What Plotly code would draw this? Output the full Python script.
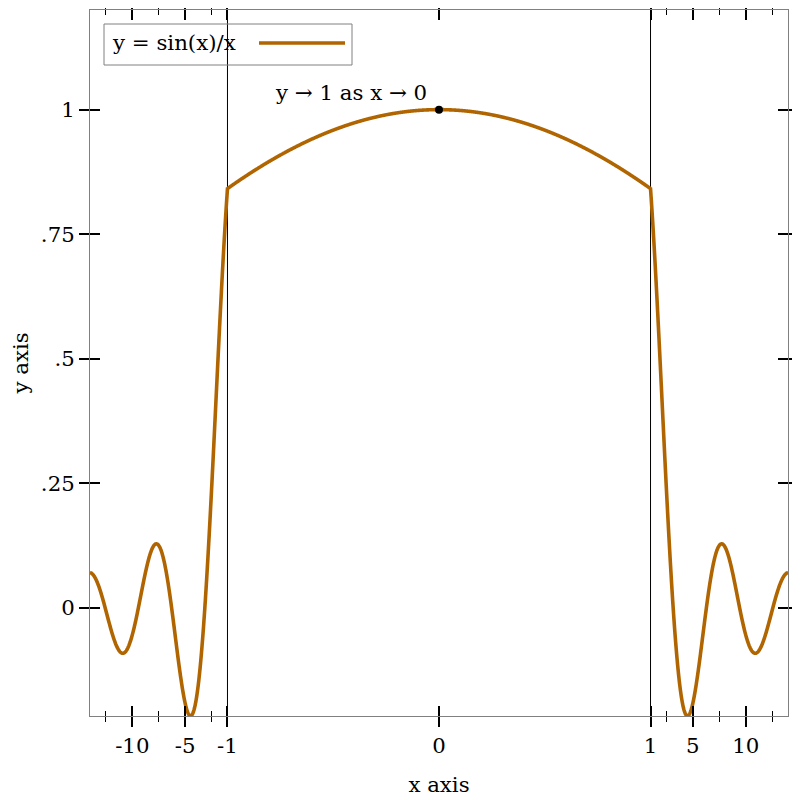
import numpy as np
import plotly.graph_objects as go

# ---- data / axis definitions ----
x_limits = [-14, 14]
y_limits = [-0.21723, 1.2]
major_x = [-10, -5, -1, 0, 1, 5, 10]
major_x_labels = ["-10", "-5", "-1", "0", "1", "5", "10"]
minor_x = [-12.5, -7.5, -2.5, 2.5, 7.5, 12.5]
y_ticks = [0, 0.25, 0.5, 0.75, 1]
y_labels = ["0", ".25", ".5", ".75", "1"]
stretch_bounds = [-1, 1]     # interval that is stretched on the x axis
stretch_factor = 20
limit_x = [0]
limit_y = [1]
series_name = "y = sin(x)/x"
limit_text = "y \u2192 1 as x \u2192 0"

CURVE = "#b06500"
AXIS_GREY = "#808080"
FONT = dict(family="DejaVu Serif", size=21.3, color="black")


def fwd(x):
    x = np.asarray(x, dtype=float)
    a = np.abs(x)
    return np.where(a <= 1, stretch_factor * x, np.sign(x) * (a + stretch_factor - 1))


def inv(t):
    t = np.asarray(t, dtype=float)
    a = np.abs(t)
    return np.where(a <= stretch_factor, t / stretch_factor, np.sign(t) * (a - stretch_factor + 1))


t_lo, t_hi = float(fwd(x_limits[0])), float(fwd(x_limits[1]))
xs = inv(np.linspace(t_lo, t_hi, 2641))
ys = np.sinc(xs / np.pi)  # sin(x)/x

fig = go.Figure()
fig.add_trace(go.Scatter(x=fwd(xs), y=ys, mode="lines",
                         line=dict(color=CURVE, width=3.6, simplify=False),
                         name=series_name, showlegend=False))
fig.add_trace(go.Scatter(x=fwd(limit_x), y=limit_y, mode="markers",
                         marker=dict(color="black", size=8),
                         xaxis="x2", yaxis="y2", showlegend=False))

# vertical lines at the stretch bounds
for b in stretch_bounds:
    fig.add_shape(type="line", xref="x", yref="paper", x0=float(fwd(b)), x1=float(fwd(b)),
                  y0=0, y1=1, line=dict(color="black", width=1), layer="below")

common_x = dict(range=[t_lo, t_hi], tickmode="array", tickvals=fwd(major_x).tolist(),
                ticklen=10, tickwidth=2, tickcolor="black", showgrid=False,
                zeroline=False, mirror="ticks", automargin=False)
common_y = dict(range=y_limits, tickmode="array", tickvals=y_ticks,
                ticklen=10, tickwidth=2, tickcolor="black", showgrid=False,
                zeroline=False, mirror="ticks", automargin=False)

# page body has an 8px margin, so the figure is 792 px and offset by 8
fig.update_layout(
    width=792, height=792,
    margin=dict(l=82, r=12, t=2, b=84),
    paper_bgcolor="white", plot_bgcolor="white",
    font=FONT,
    showlegend=False,
    xaxis=dict(**common_x, ticks="outside", ticktext=major_x_labels,
               showline=True, linecolor=AXIS_GREY, linewidth=1,
               tickfont=FONT,
               minor=dict(tickmode="array", tickvals=fwd(minor_x).tolist(), ticks="outside",
                          ticklen=5, tickwidth=1, tickcolor="black", showgrid=False),
               title=dict(text="x axis", font=FONT, standoff=20)),
    xaxis2=dict(**common_x, ticks="inside", showticklabels=False, overlaying="x",
                anchor="y", side="bottom", showline=False,
                minor=dict(tickmode="array", tickvals=fwd(minor_x).tolist(), ticks="inside",
                           ticklen=5, tickwidth=1, tickcolor="black", showgrid=False)),
    yaxis=dict(**common_y, ticks="outside", ticktext=y_labels,
               showline=True, linecolor=AXIS_GREY, linewidth=1, tickfont=FONT,
               ticklabelstandoff=0,
               title=dict(text="y axis", font=FONT, standoff=14)),
    yaxis2=dict(**common_y, ticks="inside", showticklabels=False, overlaying="y",
                anchor="x", side="left", showline=False),
)

# limit annotation
fig.add_annotation(x=float(fwd(limit_x)[0]), y=limit_y[0], xref="x", yref="y",
                   text=limit_text, showarrow=False, xanchor="right", yanchor="bottom",
                   xshift=-10, yshift=3, font=FONT)

# custom legend (line sample to the right of the text); px/py give page pixels
PW, PH = 698.0, 706.0
def px(x): return (x - 90) / PW
def py(y): return (716 - y) / PH

fig.add_shape(type="rect", xref="paper", yref="paper", x0=px(104), x1=px(352),
              y0=py(65), y1=py(24), line=dict(color=AXIS_GREY, width=1))
fig.add_shape(type="line", xref="paper", yref="paper", x0=px(259), x1=px(345),
              y0=py(43), y1=py(43), line=dict(color=CURVE, width=3.6))
fig.add_annotation(xref="paper", yref="paper", x=px(110), y=py(43), text=series_name,
                   showarrow=False, xanchor="left", yanchor="middle", font=FONT)

fig.write_html("out.html")
